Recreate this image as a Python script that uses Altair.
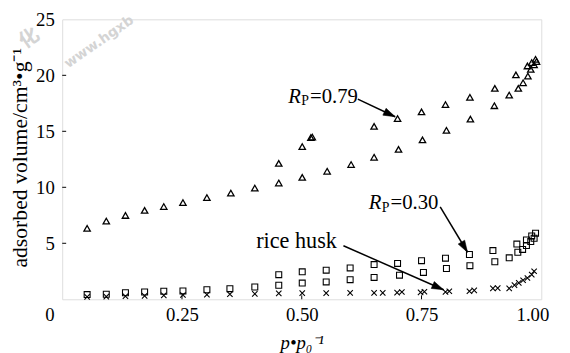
import math
import altair as alt
import pandas as pd

# --- data ---
tri_x = [0.052, 0.092, 0.132, 0.172, 0.212, 0.252, 0.302, 0.352, 0.402, 0.452, 0.501, 0.553, 0.603,
         0.651, 0.702, 0.752, 0.802, 0.852, 0.902, 0.933, 0.952, 0.962, 0.972, 0.978, 0.985, 0.990,
         0.452, 0.501, 0.519, 0.522, 0.651, 0.700, 0.750, 0.800, 0.851, 0.903, 0.947, 0.971, 0.980, 0.988]
tri_y = [6.3, 6.95, 7.45, 7.9, 8.25, 8.6, 9.05, 9.45, 9.9, 10.35, 10.85, 11.4, 12.0,
         12.65, 13.35, 14.2, 15.05, 16.05, 17.25, 18.2, 18.8, 19.3, 19.9, 20.5, 20.9, 21.2,
         12.1, 13.6, 14.4, 14.45, 15.4, 16.1, 16.7, 17.35, 18.0, 18.8, 20.0, 20.8, 21.1, 21.4]

sq_x = [0.052, 0.092, 0.132, 0.172, 0.212, 0.252, 0.302, 0.350, 0.402, 0.452, 0.501, 0.551, 0.601,
        0.651, 0.704, 0.754, 0.802, 0.851, 0.903, 0.933, 0.951, 0.961, 0.969, 0.978, 0.985,
        0.452, 0.501, 0.551, 0.601, 0.651, 0.700, 0.750, 0.800, 0.850, 0.899, 0.949, 0.969, 0.980, 0.988]
sq_y = [0.42, 0.45, 0.58, 0.65, 0.72, 0.75, 0.85, 0.95, 1.1, 1.25, 1.45, 1.55, 1.75,
        1.95, 2.15, 2.4, 2.75, 3.0, 3.35, 3.7, 4.2, 4.45, 4.8, 5.15, 5.45,
        2.2, 2.45, 2.6, 2.8, 3.1, 3.2, 3.45, 3.67, 4.0, 4.35, 4.93, 5.3, 5.66, 5.9]

cr_x = [0.052, 0.092, 0.132, 0.172, 0.212, 0.252, 0.302, 0.350, 0.402, 0.452, 0.501, 0.551, 0.601,
        0.651, 0.669, 0.699, 0.709, 0.748, 0.756, 0.800, 0.808, 0.850, 0.860, 0.899, 0.909,
        0.933, 0.944, 0.953, 0.962, 0.971, 0.980, 0.985]
cr_y = [0.22, 0.24, 0.27, 0.3, 0.35, 0.38, 0.42, 0.45, 0.48, 0.53, 0.55, 0.55, 0.57,
        0.57, 0.57, 0.6, 0.65, 0.62, 0.67, 0.65, 0.72, 0.72, 0.8, 0.97, 1.0,
        0.97, 1.26, 1.47, 1.7, 1.9, 2.2, 2.5]

x_ticks = [0, 0.25, 0.5, 0.75, 1.0]
y_ticks = [5, 10, 15, 20, 25]

# annotations: label anchor (left, middle) and arrow start/end
rp_x = [0.472, 0.640]
rp_y = [18.1, 8.63]
rp_val = ["=0.79", "=0.30"]
husk_x = [0.405]
husk_y = [5.2]
husk_text = ["rice husk"]
arr_x1 = [0.617, 0.789, 0.587]
arr_y1 = [17.87, 8.25, 4.78]
arr_x2 = [0.695, 0.846, 0.796]
arr_y2 = [16.3, 4.2, 0.85]

W, H = 486, 284
FONT = "Liberation Serif"

xs = alt.Scale(domain=[0, 1], nice=False, zero=False)
ys = alt.Scale(domain=[0, 25], nice=False, zero=False)

xaxis = alt.Axis(
    values=x_ticks, title="p•p₀⁻¹", titleFontStyle="italic", titleFontWeight="normal",
    labelExpr="datum.value == 0 ? '0' : format(datum.value, '.2f')",
    labelOffset={"condition": [{"test": "datum.value == 0", "value": -13},
                               {"test": "datum.value == 1", "value": -9}], "value": 0},
    ticks=False, domain=False, grid=False, labelPadding=7, titlePadding=9,
    labelFontSize=19, titleFontSize=19, labelFont=FONT, titleFont=FONT,
    labelColor="black", titleColor="black", labelFlush=False, labelOverlap=False,
)
yaxis = alt.Axis(
    values=y_ticks, title="adsorbed volume/cm³•g⁻¹", titleFontWeight="normal",
    ticks=False, domain=False, grid=False, labelPadding=8,
    titleX=-43, titleY=140, titleAngle=270, titleBaseline="middle", titleAlign="center",
    labelFontSize=19, titleFontSize=22, labelFont=FONT, titleFont=FONT,
    labelColor="black", titleColor="black",
)


def X(f):
    return alt.X(f, type="quantitative", scale=xs, axis=xaxis)


def Y(f):
    return alt.Y(f, type="quantitative", scale=ys, axis=yaxis)


tri = pd.DataFrame({"x": tri_x, "y": tri_y})
sq = pd.DataFrame({"x": sq_x, "y": sq_y})
cr = pd.DataFrame({"x": cr_x, "y": cr_y})

pts_tri = alt.Chart(tri).mark_point(
    shape="M0,-1L1,0.75L-1,0.75Z", size=42, filled=False, stroke="black", strokeWidth=1.3, opacity=1
).encode(x=X("x"), y=Y("y"))
pts_sq = alt.Chart(sq).mark_point(
    shape="M-1,-1H1V1H-1Z", size=36, filled=False, stroke="black", strokeWidth=1.1, opacity=1
).encode(x=X("x"), y=Y("y"))
pts_cr = alt.Chart(cr).mark_point(
    shape="M-1,-1L1,1M-1,1L1,-1", size=30, filled=False, stroke="black", strokeWidth=1.1, opacity=1
).encode(x=X("x"), y=Y("y"))

# inward ticks
xt = pd.DataFrame({"v": x_ticks[1:-1]})
yt = pd.DataFrame({"v": y_ticks[:-1]})
xtick = alt.Chart(xt).mark_rule(color="black", strokeWidth=1).encode(
    x=X("v"), y=alt.value(H), y2=alt.value(H - 4))
ytick = alt.Chart(yt).mark_rule(color="black", strokeWidth=1).encode(
    y=Y("v"), x=alt.value(0), x2=alt.value(4))

# arrows
ang = []
for a, b, c, d in zip(arr_x1, arr_y1, arr_x2, arr_y2):
    dx = (c - a) * W
    dy = -(d - b) * H / 25
    ang.append(math.degrees(math.atan2(dx, -dy)) % 360)
arr = pd.DataFrame({"x1": arr_x1, "y1": arr_y1, "x2": arr_x2, "y2": arr_y2, "ang": ang})
arr_lines = alt.Chart(arr).mark_rule(color="black", strokeWidth=1.5).encode(
    x=X("x1"), y=Y("y1"), x2="x2", y2="y2")
arr_heads = alt.Chart(arr).mark_point(
    shape="M0,0L-0.32,1L0.32,1Z", size=576, filled=True, fill="black", stroke="black",
    strokeWidth=0.5, opacity=1
).encode(x=X("x2"), y=Y("y2"), angle=alt.Angle("ang:Q", scale=None))

rp = pd.DataFrame({"x": rp_x, "y": rp_y, "val": rp_val})
t_R = alt.Chart(rp).mark_text(text="R", font=FONT, fontSize=21, fontStyle="italic",
                              align="left", baseline="middle", color="black").encode(x=X("x"), y=Y("y"))
t_P = alt.Chart(rp).mark_text(text="P", font=FONT, fontSize=14, align="left", baseline="middle",
                              dx=13, dy=5, color="black").encode(x=X("x"), y=Y("y"))
t_V = alt.Chart(rp).mark_text(font=FONT, fontSize=21, align="left", baseline="middle",
                              dx=22, color="black").encode(x=X("x"), y=Y("y"), text="val:N")
hk = pd.DataFrame({"x": husk_x, "y": husk_y, "t": husk_text})
t_H = alt.Chart(hk).mark_text(font=FONT, fontSize=22.5, align="left", baseline="middle",
                              color="black").encode(x=X("x"), y=Y("y"), text="t:N")

# faint watermark from the source journal page (visible part only)
wm = alt.Chart(pd.DataFrame({"t": ["www.hgxb"]})).mark_text(
    font="DejaVu Sans", fontSize=14, fontWeight="bold", angle=325, align="left",
    baseline="alphabetic", color="#d4d4d4"
).encode(text="t:N", x=alt.value(6), y=alt.value(50))
wm2 = alt.Chart(pd.DataFrame({"t": ["化"]})).mark_text(
    font="Noto Sans CJK SC", fontSize=20, fontWeight="bold", angle=325, align="left",
    baseline="alphabetic", color="#d4d4d4"
).encode(text="t:N", x=alt.value(-38), y=alt.value(30))

chart = alt.layer(
    wm, wm2, xtick, ytick, pts_cr, pts_sq, pts_tri, arr_lines, arr_heads, t_R, t_P, t_V, t_H
).properties(
    width=W, height=H,
    autosize=alt.AutoSizeParams(type="none"),
    padding={"left": 55, "top": 9, "right": 21, "bottom": 52},
).configure_view(
    stroke="black", strokeWidth=1.3
).configure_axis(
    labelFont=FONT, titleFont=FONT
).configure_text(
    font=FONT
).configure(background="white")

chart.save("out.html", embed_options={"renderer": "svg", "actions": False})
